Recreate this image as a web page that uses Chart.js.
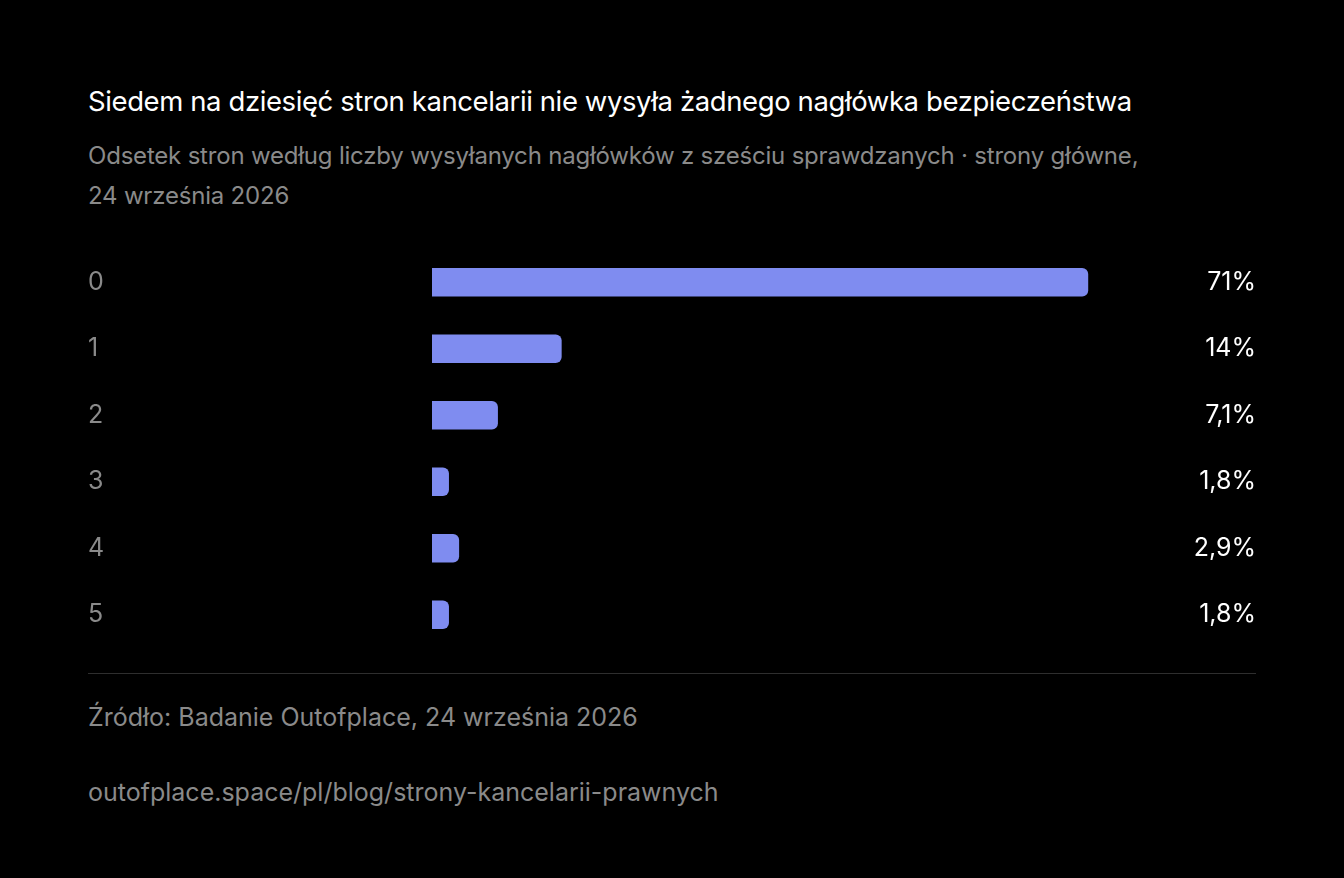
<!DOCTYPE html>
<html>
<head>
<meta charset="utf-8">
<script src="https://cdn.jsdelivr.net/npm/chart.js@4"></script>
<style>
  body { margin: 0; background: #000; font-family: Inter, sans-serif; }
  .wrap { position: absolute; left: 88px; top: 84px; width: 1168px; }
  h1 { color: #fff; font-size: 27.5px; font-weight: 400; margin: 0; letter-spacing: -0.4px; }
  .sub { color: #8a8a8a; font-size: 24px; line-height: 40px; margin-top: 18px; letter-spacing: -0.2px; max-width: 1080px; }
  .box { position: relative; height: 429px; margin-top: 18px; }
  hr { border: 0; border-top: 1px solid #2e2e2e; margin: 10px 0 0 0; }
  .src { color: #8a8a8a; font-size: 25px; margin-top: 28px; }
  .url { color: #8a8a8a; font-size: 25px; margin-top: 45px; }
</style>
</head>
<body>
<div class="wrap">
  <h1>Siedem na dziesięć stron kancelarii nie wysyła żadnego nagłówka bezpieczeństwa</h1>
  <div class="sub">Odsetek stron według liczby wysyłanych nagłówków z sześciu sprawdzanych · strony główne, 24 września 2026</div>
  <div class="box"><canvas id="c"></canvas></div>
  <hr>
  <div class="src">Źródło: Badanie Outofplace, 24 września 2026</div>
  <div class="url">outofplace.space/pl/blog/strony-kancelarii-prawnych</div>
</div>
<script>
// Number of headers sent -> share of sites
const categories = ['0', '1', '2', '3', '4', '5'];
const shares = [71, 14, 7.1, 1.8, 2.9, 1.8];
const shareLabels = ['71%', '14%', '7,1%', '1,8%', '2,9%', '1,8%'];

const valueLabels = {
  id: 'valueLabels',
  afterDatasetsDraw(chart) {
    const ctx = chart.ctx;
    const meta = chart.getDatasetMeta(0);
    ctx.save();
    ctx.font = '25px Inter, sans-serif';
    ctx.fillStyle = '#fff';
    ctx.textAlign = 'right';
    ctx.textBaseline = 'middle';
    meta.data.forEach((bar, i) => {
      ctx.fillText(shareLabels[i], chart.width, bar.y);
    });
    ctx.restore();
  }
};

new Chart(document.getElementById('c'), {
  type: 'bar',
  data: {
    labels: categories,
    datasets: [{
      data: shares,
      backgroundColor: '#7f8cf0',
      barThickness: 28,
      borderRadius: { topRight: 6, bottomRight: 6 },
      borderSkipped: false
    }]
  },
  options: {
    indexAxis: 'y',
    responsive: true,
    maintainAspectRatio: false,
    animation: false,
    layout: { padding: 0 },
    scales: {
      x: { display: false, min: 0, max: 89.2 },
      y: {
        grid: { display: false },
        border: { display: false },
        afterFit(s) { s.width = 344; },
        ticks: {
          crossAlign: 'far',
          color: '#8a8a8a',
          padding: 0,
          font: { family: 'Inter, sans-serif', size: 25 }
        }
      }
    },
    plugins: { legend: { display: false }, tooltip: { enabled: false } }
  },
  plugins: [valueLabels]
});
</script>
</body>
</html>
